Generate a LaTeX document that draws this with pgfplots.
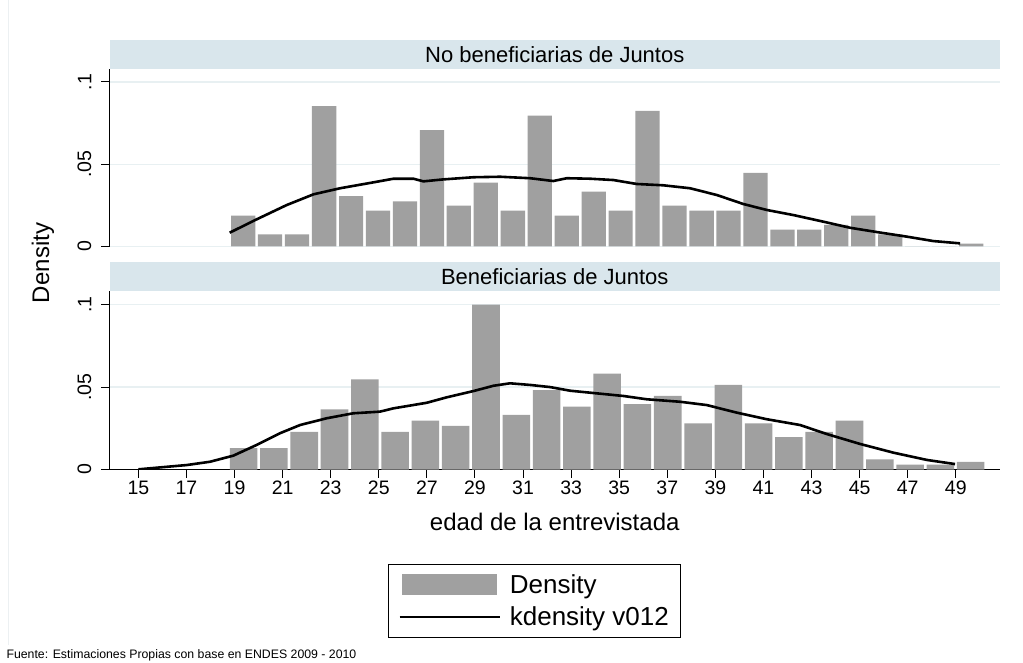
\documentclass[border=0pt]{standalone}
\usepackage{fontspec}
\setmainfont{Liberation Sans}
\usepackage{pgfplots}
\pgfplotsset{compat=1.18}
\definecolor{barcol}{RGB}{160,160,160}
\definecolor{headcol}{RGB}{217,230,236}
\definecolor{gridcol}{RGB}{232,240,242}
\definecolor{framecol}{RGB}{236,240,242}
\pgfplotsset{myaxis/.style={
  scale only axis, width=890.5pt,
  xmin=13.8, xmax=50.84, ymin=0,
  ytick={0,0.05,0.1}, yticklabels={0,.05,.1},
  ymajorgrids, grid style={gridcol, line width=1.2pt},
  axis y line*=left,
  tick align=outside, major tick length=8pt,
  tick style={black, line width=1pt},
  axis line style={black, line width=1.2pt},
  yticklabel style={rotate=90, anchor=south, inner ysep=10pt, inner xsep=0pt,
    font=\fontsize{19.5}{20}\selectfont},
}}
\begin{document}
\begin{tikzpicture}
\path[use as bounding box, fill=white] (0pt,0pt) rectangle (1023pt,662pt);
\draw[framecol, line width=1pt] (8pt,17pt) -- (8pt,662pt);
\fill[headcol] (109.5pt,593pt) rectangle (1000pt,622pt);
\node[font=\fontsize{22}{24}\selectfont] at (554.75pt,607.5pt) {No beneficiarias de Juntos};
\fill[headcol] (109.5pt,371pt) rectangle (1000pt,400pt);
\node[font=\fontsize{22}{24}\selectfont] at (554.75pt,385.5pt) {Beneficiarias de Juntos};
\node[rotate=90, font=\fontsize{24}{26}\selectfont] at (43pt,399pt) {Density};

% ---------- top panel ----------
\begin{axis}[myaxis, at={(109.5pt,415.5pt)}, anchor=south west,
  height=177.5pt, ymax=0.1079, axis x line=none]
\addplot[ybar interval, bar interval width=0.9, fill=barcol, draw=none] coordinates {
(18.80,0.0188) (19.92,0.0073) (21.04,0.0073) (22.16,0.0854) (23.29,0.0306)
(24.41,0.0218) (25.53,0.0275) (26.65,0.0707) (27.77,0.0249) (28.89,0.0389)
(30.01,0.0218) (31.14,0.0795) (32.26,0.0188) (33.38,0.0334) (34.50,0.0218)
(35.62,0.0825) (36.74,0.0249) (37.86,0.0218) (38.99,0.0218) (40.11,0.0448)
(41.23,0.0102) (42.35,0.0102) (43.47,0.0131) (44.59,0.0188) (45.71,0.0073)
(46.84,0) (47.96,0) (49.08,0.0018) (50.20,0.0018)};
\addplot[black, line width=2.6pt, line join=round] coordinates {
(18.8,0.0084) (19.92,0.0165) (21.17,0.0252) (22.28,0.0317) (23.39,0.0354)
(24.78,0.0390) (25.61,0.0412) (26.44,0.0412) (26.86,0.0396) (27.69,0.0408)
(28.94,0.0421) (30.05,0.0424) (31.3,0.0415) (32.26,0.0398) (32.82,0.0415)
(33.79,0.0412) (34.76,0.0404) (35.73,0.0380) (36.84,0.0372) (37.95,0.0354)
(39.06,0.0313) (40.17,0.0258) (41.14,0.0222) (42.25,0.0191) (43.49,0.0151)
(44.6,0.0114) (45.71,0.0088) (46.96,0.0060) (48.07,0.0033) (49.18,0.0019)};
\end{axis}

% ---------- bottom panel ----------
\begin{axis}[myaxis, at={(109.5pt,192.5pt)}, anchor=south west,
  height=178.5pt, ymax=0.1083, axis x line*=bottom,
  xtick={15,17,...,49},
  /pgf/number format/assume math mode=true,
  xticklabel style={font=\fontsize{19.5}{20}\selectfont},
  xlabel={edad de la entrevistada},
  xlabel style={font=\fontsize{24}{26}\selectfont, yshift=-11pt},
  legend style={at={(0.4773,-0.5294)}, anchor=north, draw=black, line width=1pt,
    fill=white, font=\fontsize{26}{28}\selectfont,
    inner xsep=10pt, inner ysep=8pt, row sep=8pt,
    /tikz/every odd column/.append style={column sep=7pt}},
  legend cell align=left]
\addlegendimage{legend image code/.code={\fill[barcol] (0pt,-10pt) rectangle (94pt,10pt);}}
\addlegendentry{Density}
\addlegendimage{legend image code/.code={\draw[black, line width=2.6pt] (-3pt,0pt) -- (97pt,0pt);}}
\addlegendentry{kdensity v012}
\addplot[ybar interval, bar interval width=0.91, fill=barcol, draw=none, forget plot] coordinates {
(18.75,0.0129) (20.01,0.0129) (21.27,0.0229) (22.53,0.0365) (23.79,0.0547)
(25.05,0.0229) (26.31,0.0296) (27.57,0.0264) (28.83,0.1000) (30.09,0.0331)
(31.35,0.0482) (32.61,0.0381) (33.87,0.0581) (35.13,0.0397) (36.39,0.0446)
(37.65,0.0280) (38.91,0.0513) (40.17,0.0280) (41.43,0.0197) (42.69,0.0229)
(43.95,0.0296) (45.21,0.0062) (46.47,0.0029) (47.73,0.0029) (48.99,0.0046)
(50.25,0.0046)};
\addplot[black, line width=2.6pt, line join=round, forget plot] coordinates {
(15.0,0.0001) (17.01,0.0027) (17.98,0.0047) (18.95,0.0084) (19.92,0.0149)
(20.89,0.0220) (21.73,0.0270) (22.84,0.0311) (23.94,0.0341) (25.05,0.0351)
(25.61,0.0371) (27.0,0.0405) (27.83,0.0438) (28.94,0.0476) (29.77,0.0508)
(30.46,0.0523) (31.3,0.0513) (32.13,0.0500) (32.96,0.0478) (34.07,0.0462)
(35.18,0.0446) (36.15,0.0426) (37.53,0.0411) (38.64,0.0391) (39.89,0.0345)
(41.14,0.0305) (42.52,0.0270) (43.64,0.0215) (45.02,0.0155) (46.41,0.0102)
(47.8,0.0058) (48.97,0.0033)};
\end{axis}

\node[anchor=base west, font=\fontsize{12.3}{14}\selectfont] at (3pt,4pt)
  {Fuente: Estimaciones Propias con base en ENDES 2009 - 2010};
\end{tikzpicture}
\end{document}
